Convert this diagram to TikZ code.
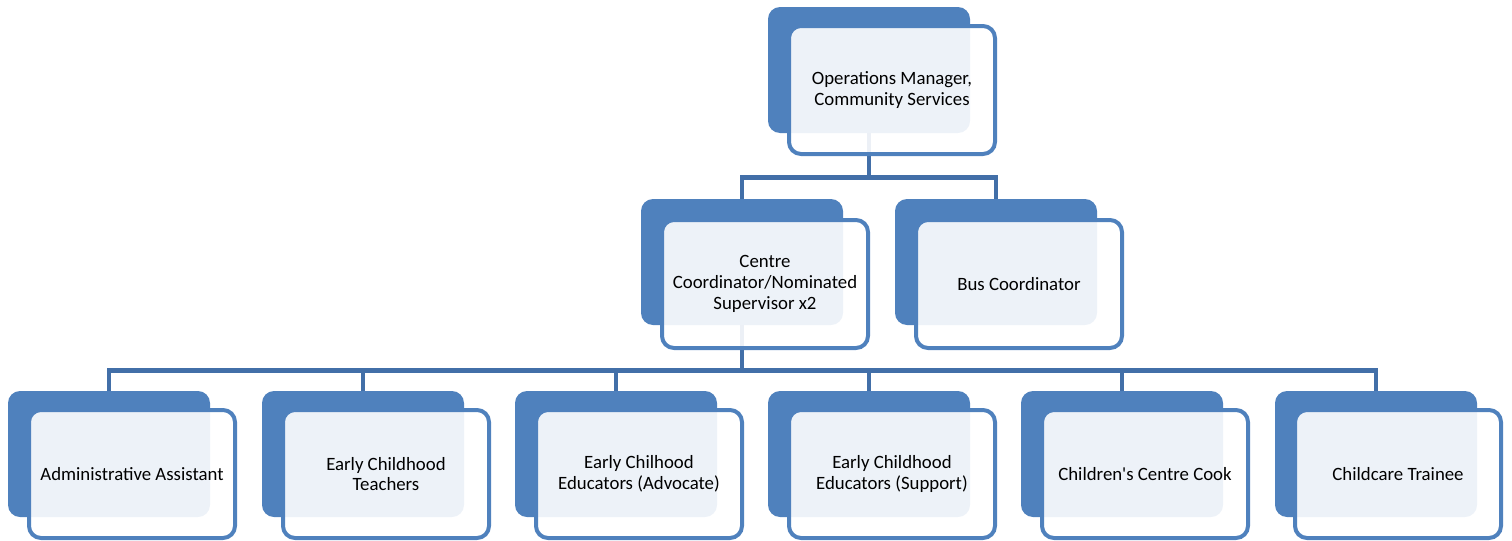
\documentclass[tikz,border=0pt]{standalone}
\usepackage{fontspec}
\setmainfont{Carlito}
\usepackage{tikz}
\usetikzlibrary{calc}

\definecolor{unitblue}{RGB}{79,129,189}
\definecolor{linkblue}{RGB}{66,111,168}

\tikzset{
  backbox/.style={fill=unitblue, rounded corners=6pt,
    minimum width=101pt, minimum height=63pt, inner sep=0pt},
  frontbox/.style={draw=unitblue, line width=2pt, fill=white, fill opacity=0.9,
    text opacity=1, rounded corners=6pt, minimum width=103pt, minimum height=64pt,
    align=center, font=\fontsize{9.4}{10.4}\selectfont},
  link/.style={draw=linkblue, line width=2.3pt}
}

\begin{document}
\begin{tikzpicture}[x=0.5pt, y=-0.5pt]
            \useasboundingbox (0,0) rectangle (1512,541);
            % back plates
            \node[backbox] (omb) at (869, 70) {};
            \node[backbox] (ccb) at (742, 262) {};
            \node[backbox] (busb) at (996, 262) {};
            \node[backbox] (adminb) at (109, 454) {};
            \node[backbox] (teachb) at (363, 454) {};
            \node[backbox] (advb) at (616, 454) {};
            \node[backbox] (suppb) at (869, 454) {};
            \node[backbox] (cookb) at (1122, 454) {};
            \node[backbox] (traineeb) at (1376, 454) {};
            % reporting lines
            \draw[link] (omb.south) -- ++(0,44) -| (ccb.north);
            \draw[link] (omb.south) -- ++(0,44) -| (busb.north);
            \draw[link] (ccb.south) -- ++(0,45) -| (adminb.north);
            \draw[link] (ccb.south) -- ++(0,45) -| (teachb.north);
            \draw[link] (ccb.south) -- ++(0,45) -| (advb.north);
            \draw[link] (ccb.south) -- ++(0,45) -| (suppb.north);
            \draw[link] (ccb.south) -- ++(0,45) -| (cookb.north);
            \draw[link] (ccb.south) -- ++(0,45) -| (traineeb.north);
            % front cards
            \node[frontbox] (om) at (892, 90) {Operations Manager,\\Community Services};
            \node[frontbox] (cc) at (765, 284) {Centre\\Coordinator/Nominated\\Supervisor x2};
            \node[frontbox] (bus) at (1019, 284) {Bus Coordinator};
            \node[frontbox] (admin) at (132, 474) {Administrative Assistant};
            \node[frontbox] (teach) at (386, 474) {Early Childhood\\Teachers};
            \node[frontbox] (adv) at (639, 474) {Early Chilhood\\Educators (Advocate)};
            \node[frontbox] (supp) at (892, 474) {Early Childhood\\Educators (Support)};
            \node[frontbox] (cook) at (1145, 474) {Children\textquotesingle s Centre Cook};
            \node[frontbox] (trainee) at (1398, 474) {Childcare Trainee};
        \end{tikzpicture}
\end{document}
